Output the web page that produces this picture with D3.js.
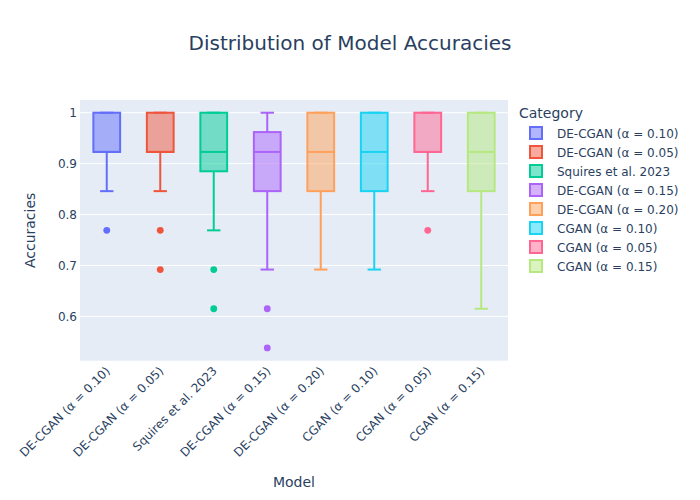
<!DOCTYPE html>
<html>
<head>
<meta charset="utf-8">
<script src="https://cdn.jsdelivr.net/npm/d3@7"></script>
<style>
  body { margin: 0; background: #fff; }
  text { font-family: "DejaVu Sans", Verdana, sans-serif; fill: #2a3f5f; }
</style>
</head>
<body>
<div id="chart"></div>
<script>
// Box summaries (accuracies look like k/13 values)
var models = ["DE-CGAN (α = 0.10)", "DE-CGAN (α = 0.05)", "Squires et al. 2023", "DE-CGAN (α = 0.15)",
              "DE-CGAN (α = 0.20)", "CGAN (α = 0.10)", "CGAN (α = 0.05)", "CGAN (α = 0.15)"];
var colors = ["#636efa", "#EF553B", "#00cc96", "#ab63fa", "#FFA15A", "#19d3f3", "#FF6692", "#B6E880"];
var q1 =       [0.923, 0.923, 0.885, 0.846, 0.846, 0.846, 0.923, 0.846];
var medians =  [0.923, 0.923, 0.923, 0.923, 0.923, 0.923, 0.923, 0.923];
var q3 =       [1.000, 1.000, 1.000, 0.962, 1.000, 1.000, 1.000, 1.000];
var lowFence = [0.846, 0.846, 0.769, 0.692, 0.692, 0.692, 0.846, 0.615];
var upFence =  [1.000, 1.000, 1.000, 1.000, 1.000, 1.000, 1.000, 1.000];
var outliers = [[0.769], [0.769, 0.692], [0.692, 0.615], [0.615, 0.538], [], [], [0.769], []];
var yTicks = [0.6, 0.7, 0.8, 0.9, 1];

var svgWidth = 700;
var svgHeight = 500;
var margin = { top: 100, right: 192, bottom: 139.3, left: 80 };
var width = svgWidth - margin.left - margin.right;
var height = svgHeight - margin.top - margin.bottom;

var svg = d3.select("#chart")
    .append("svg")
    .attr("width", svgWidth)
    .attr("height", svgHeight);

// Title
svg.append("text")
    .attr("x", 350)
    .attr("y", 50)
    .attr("text-anchor", "middle")
    .style("font-size", "20px")
    .text("Distribution of Model Accuracies");

var chartGroup = svg.append("g")
    .attr("transform", `translate(${margin.left}, ${margin.top})`);

chartGroup.append("rect")
    .attr("width", width)
    .attr("height", height)
    .attr("fill", "#E5ECF6");

var xScale = d3.scaleBand()
    .domain(models)
    .range([0, width]);

var yScale = d3.scaleLinear()
    .domain([0.513, 1.025])
    .range([height, 0]);

// Grid lines
chartGroup.selectAll(".grid")
    .data(yTicks)
    .enter()
    .append("line")
    .attr("x1", 0)
    .attr("x2", width)
    .attr("y1", d => yScale(d))
    .attr("y2", d => yScale(d))
    .attr("stroke", "#fff")
    .attr("stroke-width", 1);

// Y axis
var leftAxis = d3.axisLeft(yScale)
    .tickValues(yTicks)
    .tickSize(0)
    .tickPadding(3)
    .tickFormat(d => d === 1 ? "1" : d3.format(".1f")(d));

chartGroup.append("g")
    .call(leftAxis)
    .call(g => g.select(".domain").remove())
    .selectAll("text")
    .style("font-size", "12px")
    .attr("fill", "#2a3f5f");

// X axis, angled labels
var bottomAxis = d3.axisBottom(xScale).tickSize(0);
var xAxis = chartGroup.append("g")
    .attr("transform", `translate(0, ${height})`)
    .call(bottomAxis);
xAxis.select(".domain").remove();
xAxis.selectAll("text")
    .style("font-size", "12px")
    .attr("fill", "#2a3f5f")
    .attr("text-anchor", "end")
    .attr("y", 0)
    .attr("dy", 0)
    .attr("transform", "translate(4, 11) rotate(-45)");

// Boxes
var boxW = xScale.bandwidth() * 0.5;
var boxes = chartGroup.selectAll(".box")
    .data(models)
    .enter()
    .append("g")
    .attr("transform", d => `translate(${xScale(d) + xScale.bandwidth() / 2}, 0)`);

boxes.append("line")
    .attr("y1", (d, i) => yScale(lowFence[i]))
    .attr("y2", (d, i) => yScale(q1[i]))
    .attr("stroke", (d, i) => colors[i])
    .attr("stroke-width", 2);
boxes.append("line")
    .attr("y1", (d, i) => yScale(upFence[i]))
    .attr("y2", (d, i) => yScale(q3[i]))
    .attr("stroke", (d, i) => colors[i])
    .attr("stroke-width", 2);
boxes.append("line")
    .attr("x1", -boxW / 4)
    .attr("x2", boxW / 4)
    .attr("y1", (d, i) => yScale(lowFence[i]))
    .attr("y2", (d, i) => yScale(lowFence[i]))
    .attr("stroke", (d, i) => colors[i])
    .attr("stroke-width", 2);
boxes.append("line")
    .attr("x1", -boxW / 4)
    .attr("x2", boxW / 4)
    .attr("y1", (d, i) => yScale(upFence[i]))
    .attr("y2", (d, i) => yScale(upFence[i]))
    .attr("stroke", (d, i) => colors[i])
    .attr("stroke-width", 2);
boxes.append("rect")
    .attr("x", -boxW / 2)
    .attr("width", boxW)
    .attr("y", (d, i) => yScale(q3[i]))
    .attr("height", (d, i) => yScale(q1[i]) - yScale(q3[i]))
    .attr("fill", (d, i) => colors[i])
    .attr("fill-opacity", 0.5)
    .attr("stroke", (d, i) => colors[i])
    .attr("stroke-width", 2);
boxes.append("line")
    .attr("x1", -boxW / 2)
    .attr("x2", boxW / 2)
    .attr("y1", (d, i) => yScale(medians[i]))
    .attr("y2", (d, i) => yScale(medians[i]))
    .attr("stroke", (d, i) => colors[i])
    .attr("stroke-width", 2);

boxes.each(function(d, i) {
    d3.select(this).selectAll("circle")
        .data(outliers[i])
        .enter()
        .append("circle")
        .attr("cy", v => yScale(v))
        .attr("r", 3.4)
        .attr("fill", colors[i]);
});

// Axis titles
svg.append("text")
    .attr("transform", `translate(35, ${margin.top + height / 2}) rotate(-90)`)
    .attr("text-anchor", "middle")
    .style("font-size", "14px")
    .text("Accuracies");

svg.append("text")
    .attr("x", margin.left + width / 2)
    .attr("y", 487)
    .attr("text-anchor", "middle")
    .style("font-size", "14px")
    .text("Model");

// Legend
var legend = svg.append("g").attr("transform", "translate(519, 0)");
legend.append("text")
    .attr("x", 0)
    .attr("y", 118)
    .style("font-size", "14px")
    .text("Category");

var items = legend.selectAll(".item")
    .data(models)
    .enter()
    .append("g")
    .attr("transform", (d, i) => `translate(0, ${133 + i * 19})`);
items.append("rect")
    .attr("x", 11)
    .attr("y", -6)
    .attr("width", 12)
    .attr("height", 12)
    .attr("fill", (d, i) => colors[i])
    .attr("fill-opacity", 0.5)
    .attr("stroke", (d, i) => colors[i])
    .attr("stroke-width", 2);
items.append("text")
    .attr("x", 38)
    .attr("y", 4.5)
    .style("font-size", "12px")
    .text(d => d);
</script>
</body>
</html>
